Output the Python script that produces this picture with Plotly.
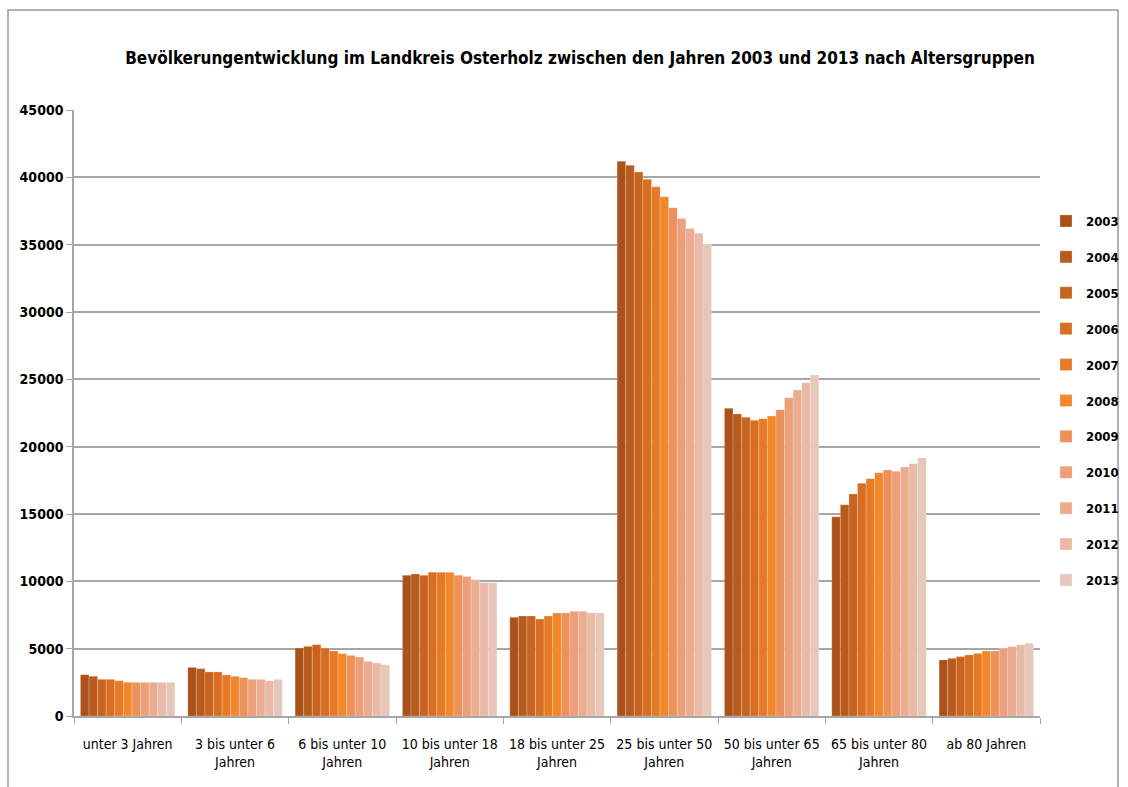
import plotly.graph_objects as go

categories = ["unter 3 Jahren", "3 bis unter 6<br>Jahren", "6 bis unter 10<br>Jahren",
              "10 bis unter 18<br>Jahren", "18 bis unter 25<br>Jahren", "25 bis unter 50<br>Jahren",
              "50 bis unter 65<br>Jahren", "65 bis unter 80<br>Jahren", "ab 80 Jahren"]
years = ["2003", "2004", "2005", "2006", "2007", "2008", "2009", "2010", "2011", "2012", "2013"]

# values per age group, one entry per year 2003..2013
unter_3 = [3070, 2950, 2720, 2720, 2620, 2500, 2500, 2500, 2500, 2500, 2500]
bis_6 = [3610, 3520, 3270, 3270, 3050, 2950, 2850, 2720, 2720, 2620, 2720]
bis_10 = [5050, 5170, 5300, 5050, 4830, 4630, 4500, 4380, 4060, 3940, 3810]
bis_18 = [10450, 10550, 10450, 10670, 10670, 10670, 10450, 10350, 10120, 9900, 9900]
bis_25 = [7330, 7430, 7430, 7200, 7430, 7650, 7650, 7775, 7775, 7650, 7650]
bis_50 = [41200, 40900, 40400, 39850, 39300, 38550, 37750, 36950, 36200, 35850, 35050]
bis_65 = [22850, 22430, 22180, 21960, 22080, 22280, 22750, 23640, 24210, 24750, 25320]
bis_80 = [14800, 15690, 16490, 17280, 17620, 18070, 18270, 18170, 18490, 18740, 19160]
ab_80 = [4160, 4280, 4410, 4530, 4650, 4830, 4830, 5030, 5150, 5270, 5400]

groups = [unter_3, bis_6, bis_10, bis_18, bis_25, bis_50, bis_65, bis_80, ab_80]

colors = ["#AA5219", "#B95B1C", "#C8641F", "#D86E22", "#E77A25", "#F2872B",
          "#EC9159", "#EC9F7B", "#EBAC8F", "#E9BAA7", "#E6C7BA"]

fig = go.Figure()
for i, yr in enumerate(years):
    fig.add_trace(go.Bar(
        name=yr, x=categories, y=[g[i] for g in groups],
        marker=dict(color=colors[i], line=dict(width=0.6, color="rgba(255,255,255,0.35)")),
        legendgroup=yr,
    ))

L, R, T, B = 74, 1040, 110, 716
W, H = 1128, 787

def px(x):
    return (x - L) / (R - L)

def py(y):
    return (B - y) / (B - T)

tick_family = "DejaVu Sans Condensed, Liberation Sans, sans-serif"

fig.update_layout(
    width=W, height=H,
    barmode="group", bargap=0.12, bargroupgap=0,
    margin=dict(l=L, r=W - R, t=T, b=H - B, autoexpand=False),
    paper_bgcolor="white", plot_bgcolor="white",
    title=dict(text="<b>Bevölkerungentwicklung im Landkreis Osterholz zwischen den Jahren 2003 und 2013 nach Altersgruppen</b>",
               x=580 / W, xanchor="center", y=1 - 58 / H, yanchor="middle",
               font=dict(family="DejaVu Sans Condensed, Liberation Sans, sans-serif", size=17, color="black")),
    font=dict(family=tick_family, color="black"),
    legend=dict(x=px(1046), xanchor="left", y=py(206), yanchor="top",
                font=dict(size=13, family=tick_family, color="black", weight="bold"),
                tracegroupgap=16, bgcolor="rgba(0,0,0,0)", itemwidth=30),
    showlegend=True,
)
fig.update_yaxes(range=[0, 45000], dtick=5000, showgrid=True, gridcolor="#A6A6A6", gridwidth=1.5,
                 showline=True, linecolor="#A6A6A6", linewidth=1.5,
                 ticks="outside", ticklen=6, tickcolor="#A6A6A6",
                 tickfont=dict(size=14, family=tick_family, color="black", weight="bold"),
                 zeroline=False, tickformat="d")
fig.update_xaxes(showline=True, linecolor="#A6A6A6", linewidth=1.5,
                 ticks="outside", ticklen=6, tickcolor="#A6A6A6", tickson="boundaries",
                 tickfont=dict(size=14, family=tick_family, color="black"),
                 tickangle=0, ticklabelstandoff=14)

fig.add_shape(type="rect", xref="paper", yref="paper",
              x0=px(8), x1=px(1118), y0=py(800), y1=py(10),
              line=dict(color="#9A9A9A", width=1.5), fillcolor="rgba(0,0,0,0)", layer="below")

fig.write_html("out.html", config={"displayModeBar": False},
               post_script="document.body.style.margin='0';document.body.style.overflow='hidden';")
